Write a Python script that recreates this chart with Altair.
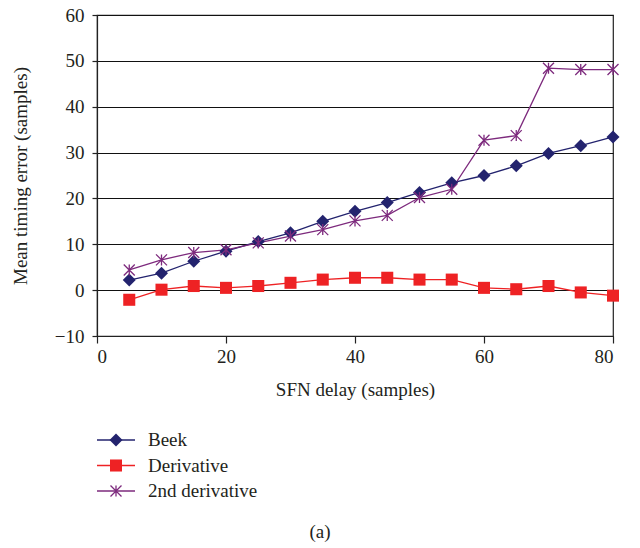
import altair as alt
import pandas as pd

delay = [5, 10, 15, 20, 25, 30, 35, 40, 45, 50, 55, 60, 65, 70, 75, 80]
beek = [2.2, 3.7, 6.3, 8.5, 10.6, 12.5, 15.0, 17.2, 19.1, 21.3, 23.4, 25.0, 27.1, 29.8, 31.5, 33.4]
derivative = [-2.1, 0.1, 0.9, 0.5, 0.9, 1.6, 2.3, 2.7, 2.7, 2.3, 2.3, 0.5, 0.2, 0.9, -0.5, -1.2]
second = [4.4, 6.6, 8.2, 8.8, 10.3, 11.8, 13.2, 15.1, 16.3, 20.2, 22.0, 32.7, 33.7, 48.4, 48.1, 48.1]

series_names = ["Beek", "Derivative", "2nd derivative"]
series_colors = ["#23236e", "#ee2224", "#7d2a7d"]
y_ticks = [-10, 0, 10, 20, 30, 40, 50, 60]
x_ticks = [0, 20, 40, 60, 80]

rows = []
for name, vals in zip(series_names, [beek, derivative, second]):
    for d, v in zip(delay, vals):
        rows.append({"delay": d, "value": v, "series": name})
df = pd.DataFrame(rows)
leg_df = pd.DataFrame({"series": series_names, "row": list(range(len(series_names)))})

FONT = "Liberation Serif"
TXT = "#231f20"
FS = 19

color_scale = alt.Scale(domain=series_names, range=series_colors)
star_path = "M-1,-1L1,1M-1,1L1,-1M0,-1L0,1"
shape_scale = alt.Scale(domain=series_names, range=["diamond", "square", star_path])
size_scale = alt.Scale(domain=series_names, range=[169, 121, 110])

x_enc = alt.X("delay:Q", scale=alt.Scale(domain=[0, 80], nice=False),
              axis=alt.Axis(values=x_ticks, title="SFN delay (samples)", grid=False,
                            tickSize=7, labelPadding=4, titlePadding=14))
y_enc = alt.Y("value:Q", scale=alt.Scale(domain=[-10, 60], nice=False),
              axis=alt.Axis(values=y_ticks, title="Mean timing error (samples)", grid=True,
                            tickSize=5, labelPadding=8, titlePadding=24))

base = alt.Chart(df)

lines = base.mark_line(strokeWidth=1.3).encode(
    x=x_enc, y=y_enc,
    color=alt.Color("series:N", scale=color_scale, legend=None),
    detail="series:N",
)

filled_pts = base.transform_filter(alt.datum.series != "2nd derivative").mark_point(
    filled=True, opacity=1).encode(
    x=x_enc, y=y_enc,
    color=alt.Color("series:N", scale=color_scale, legend=None),
    shape=alt.Shape("series:N", scale=shape_scale, legend=None),
    size=alt.Size("series:N", scale=size_scale, legend=None))
star_pts = base.transform_filter(alt.datum.series == "2nd derivative").mark_point(
    filled=False, strokeWidth=1.3, opacity=1).encode(
    x=x_enc, y=y_enc,
    color=alt.Color("series:N", scale=color_scale, legend=None),
    shape=alt.Shape("series:N", scale=shape_scale, legend=None),
    size=alt.Size("series:N", scale=size_scale, legend=None))

plot = alt.layer(lines, filled_pts, star_pts)

# legend (drawn below the plot, rows placed by a legend-only scale)
leg_y = alt.Y("row:Q", scale=alt.Scale(domain=[0, 2], range=[425, 476]), axis=None)
lbase = alt.Chart(leg_df)
leg_lines = lbase.mark_rule(strokeWidth=1.3).encode(
    x=alt.value(0), x2=alt.value(38), y=leg_y,
    color=alt.Color("series:N", scale=color_scale, legend=None))
leg_filled = lbase.transform_filter(alt.datum.series != "2nd derivative").mark_point(
    filled=True, opacity=1).encode(
    x=alt.value(19), y=leg_y,
    color=alt.Color("series:N", scale=color_scale, legend=None),
    shape=alt.Shape("series:N", scale=shape_scale, legend=None),
    size=alt.Size("series:N", scale=size_scale, legend=None))
leg_star = lbase.transform_filter(alt.datum.series == "2nd derivative").mark_point(
    filled=False, strokeWidth=1.3, opacity=1).encode(
    x=alt.value(19), y=leg_y,
    color=alt.Color("series:N", scale=color_scale, legend=None),
    shape=alt.Shape("series:N", scale=shape_scale, legend=None),
    size=alt.Size("series:N", scale=size_scale, legend=None))
leg_text = lbase.mark_text(align="left", baseline="middle", font=FONT, fontSize=FS,
                           color=TXT).encode(
    x=alt.value(51), y=leg_y, text="series:N")

legend = alt.layer(leg_lines, leg_filled, leg_star, leg_text)

chart = alt.layer(plot, legend).resolve_scale(y="independent").properties(
    width=516, height=321,
    autosize=alt.AutoSizeParams(type="none"),
    padding={"left": 89, "top": 7, "right": 19, "bottom": 212},
    title=alt.TitleParams("(a)", orient="bottom", frame="group", offset=22, dx=-35,
                          fontSize=FS, font=FONT, color=TXT, fontWeight="normal"),
).configure_view(
    stroke="#222222", strokeWidth=1.2
).configure_axis(
    labelFont=FONT, titleFont=FONT, labelFontSize=FS, titleFontSize=FS,
    labelColor=TXT, titleColor=TXT, titleFontWeight="normal",
    domainColor="#222222", tickColor="#222222", gridColor="#111111",
    gridWidth=1, gridOpacity=1, domainWidth=1.2, tickWidth=1.2,
)

chart.save("out.html", embed_options={"renderer": "svg", "actions": False})
